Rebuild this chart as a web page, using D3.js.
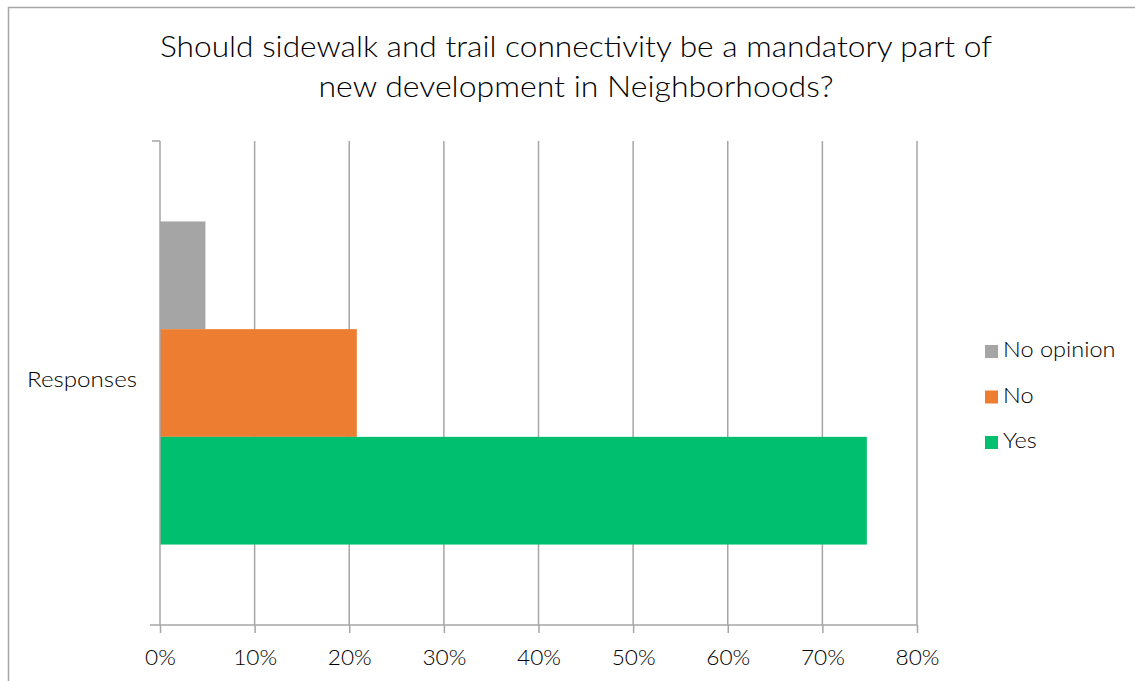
<!DOCTYPE html>
<html><head><meta charset="utf-8">
<script src="https://cdn.jsdelivr.net/npm/d3@7"></script>
<style>body{margin:0;background:#fff}svg{display:block}text{font-family:Lato,"Open Sans",sans-serif;fill:#000}</style>
</head><body>
<script>
const titleLines = ["Should sidewalk and trail connectivity be a mandatory part of", "new development in Neighborhoods?"];
const categories = ["Responses"];
const seriesNames = ["No opinion", "No", "Yes"];
const seriesValues = [0.048, 0.208, 0.747];
const seriesColors = ["#a5a5a5", "#ed7d31", "#00bf6f"];
const xTicks = [0, 0.1, 0.2, 0.3, 0.4, 0.5, 0.6, 0.7, 0.8];

const W = 1135, H = 681;
const svg = d3.select("body").append("svg").attr("width", W).attr("height", H);
svg.append("rect").attr("x", 8.5).attr("y", 7.5).attr("width", W).attr("height", H)
  .attr("fill", "#fff").attr("stroke", "#a6a6a6").attr("stroke-width", 1.5);

const plot = {left: 160, right: 917, top: 141, bottom: 625};
const x = d3.scaleLinear().domain([0, 0.8]).range([plot.left, plot.right]);
const y = d3.scaleBand().domain(categories).range([plot.top, plot.bottom]);
const ySub = d3.scaleBand().domain(seriesNames).range([0, y.bandwidth()]).paddingOuter(0.747).paddingInner(0);

function fit(sel, scale) {
  sel.each(function() {
    const w = this.getComputedTextLength();
    d3.select(this).attr("textLength", w * scale).attr("lengthAdjust", "spacingAndGlyphs");
  });
}

// title
const t1 = svg.append("text").attr("x", 576).attr("y", 57).attr("text-anchor", "middle")
  .style("font-size", "30px").style("font-weight", 300).text(titleLines[0]);
const t2 = svg.append("text").attr("x", 576).attr("y", 97).attr("text-anchor", "middle")
  .style("font-size", "30px").style("font-weight", 300).text(titleLines[1]);
t1.attr("textLength", 832).attr("lengthAdjust", "spacingAndGlyphs");
t2.attr("textLength", 515).attr("lengthAdjust", "spacingAndGlyphs");

// gridlines
svg.append("g").selectAll("line").data(xTicks.slice(1)).join("line")
  .attr("x1", d => x(d)).attr("x2", d => x(d)).attr("y1", plot.top).attr("y2", plot.bottom)
  .attr("stroke", "#a6a6a6").attr("stroke-width", 1.5);

// bars
categories.forEach(c => {
  svg.append("g").selectAll("rect").data(seriesNames).join("rect")
    .attr("x", x(0)).attr("y", s => y(c) + ySub(s))
    .attr("width", (s, i) => x(seriesValues[i]) - x(0))
    .attr("height", ySub.bandwidth())
    .attr("fill", (s, i) => seriesColors[i]);
});

// x axis
const xAxis = d3.axisBottom(x).tickValues(xTicks).tickFormat(d3.format(".0%")).tickSize(8).tickSizeOuter(0);
const gx = svg.append("g").attr("transform", `translate(0,${plot.bottom})`).call(xAxis);
gx.select(".domain").remove();
gx.append("line").attr("x1", plot.left - 10).attr("x2", plot.right).attr("stroke", "#a6a6a6").attr("stroke-width", 1.5);
gx.selectAll(".tick line").attr("stroke", "#a6a6a6").attr("stroke-width", 1.5);
gx.selectAll(".tick text").attr("y", 25).style("font-size", "21px").style("font-family", "Lato, sans-serif")
  .style("font-weight", 300).attr("fill", "#000").call(fit, 1.08);

// y axis
svg.append("line").attr("x1", plot.left).attr("x2", plot.left).attr("y1", plot.top).attr("y2", plot.bottom)
  .attr("stroke", "#a6a6a6").attr("stroke-width", 1.5);
svg.append("line").attr("x1", plot.left - 8).attr("x2", plot.left).attr("y1", plot.top).attr("y2", plot.top)
  .attr("stroke", "#a6a6a6").attr("stroke-width", 1.5);
svg.append("g").selectAll("text").data(categories).join("text")
  .attr("x", plot.left - 23).attr("y", d => y(d) + y.bandwidth() / 2 - 1)
  .attr("text-anchor", "end").attr("dominant-baseline", "middle").style("font-size", "21px")
  .style("font-weight", 300).text(d => d).call(fit, 1.15);

// legend
const lg = svg.append("g").attr("transform", "translate(985,352)");
seriesNames.forEach((s, i) => {
  const g = lg.append("g").attr("transform", `translate(0,${i * 45.5})`);
  g.append("rect").attr("x", 0).attr("y", -7).attr("width", 13).attr("height", 13).attr("fill", seriesColors[i]);
  g.append("text").attr("x", 18).attr("y", 0).attr("dominant-baseline", "middle").style("font-size", "21px")
    .style("font-weight", 300).text(s).call(fit, 1.12);
});
</script>
</body></html>
